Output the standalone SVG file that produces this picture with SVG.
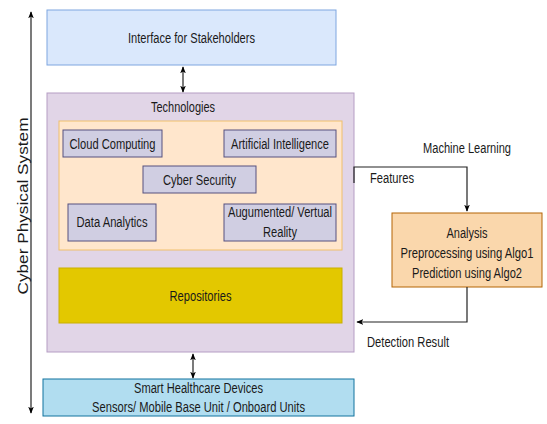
<svg xmlns="http://www.w3.org/2000/svg" width="547" height="424" viewBox="0 0 547 424">
<defs>
<marker id="ah" viewBox="0 0 10 10" refX="9" refY="5" markerWidth="7" markerHeight="7" orient="auto-start-reverse" markerUnits="userSpaceOnUse">
<path d="M0,1 L10,5 L0,9 L2.5,5 Z" fill="#000"/>
</marker>
</defs>
<style>
text{font-family:"Liberation Sans Narrow","Liberation Sans",Arial,sans-serif;font-size:15.5px;fill:#1a1a1a;text-anchor:middle}
.lbl{text-anchor:start}
.tech{fill:#d0cee2;stroke:#56517e;stroke-width:1}
.conn{fill:none;stroke:#222;stroke-width:1.2}
</style>
<rect width="547" height="424" fill="#fff"/>
<g id="axis">
<line x1="31" y1="12" x2="31" y2="413" class="conn" marker-start="url(#ah)" marker-end="url(#ah)"/>
<text transform="translate(28,206) rotate(-90)" style="font-family:'Liberation Sans',Arial,sans-serif;font-size:15.5px" textLength="177" lengthAdjust="spacingAndGlyphs">Cyber Physical System</text>
</g>
<g id="interface">
<rect x="47" y="10" width="289" height="55" fill="#dae8fc" stroke="#7ea6e0"/>
<text x="191.5" y="42.5" textLength="127" lengthAdjust="spacingAndGlyphs">Interface for Stakeholders</text>
</g>
<g id="technologies">
<rect x="47" y="93" width="307" height="259" fill="#e1d5e7" stroke="#b59dc4"/>
<text x="183" y="111.5" textLength="64" lengthAdjust="spacingAndGlyphs">Technologies</text>
</g>
<g id="tech-group">
<rect x="59" y="121" width="283" height="129" fill="#ffe6cc" stroke="#f0c06c"/>
</g>
<g id="cloud">
<rect class="tech" x="63" y="130" width="99" height="27"/>
<text x="112.5" y="149" textLength="86" lengthAdjust="spacingAndGlyphs">Cloud Computing</text>
</g>
<g id="ai">
<rect class="tech" x="224" y="130" width="112" height="27"/>
<text x="280" y="149" textLength="98" lengthAdjust="spacingAndGlyphs">Artificial Intelligence</text>
</g>
<g id="cyber">
<rect class="tech" x="143" y="166" width="113" height="27"/>
<text x="199.5" y="185" textLength="73" lengthAdjust="spacingAndGlyphs">Cyber Security</text>
</g>
<g id="data">
<rect class="tech" x="68" y="204" width="88" height="37"/>
<text x="112" y="227" textLength="71" lengthAdjust="spacingAndGlyphs">Data Analytics</text>
</g>
<g id="arvr">
<rect class="tech" x="224" y="204" width="112" height="37"/>
<text x="280" y="217" textLength="104" lengthAdjust="spacingAndGlyphs">Augumented/ Vertual</text>
<text x="280" y="237" textLength="34" lengthAdjust="spacingAndGlyphs">Reality</text>
</g>
<g id="repositories">
<rect x="59" y="268" width="283" height="55" fill="#e3c800" stroke="#c9b000"/>
<text x="200.5" y="300.5" textLength="62" lengthAdjust="spacingAndGlyphs">Repositories</text>
</g>
<g id="devices">
<rect x="43" y="379" width="311" height="37" fill="#b1ddf0" stroke="#10739e"/>
<text x="198.5" y="392.5" textLength="129" lengthAdjust="spacingAndGlyphs">Smart Healthcare Devices</text>
<text x="198.5" y="412" textLength="213" lengthAdjust="spacingAndGlyphs">Sensors/ Mobile Base Unit / Onboard Units</text>
</g>
<g id="analysis">
<rect x="392" y="213" width="150" height="74" fill="#fad7ac" stroke="#b46504"/>
<text x="467" y="238" textLength="41" lengthAdjust="spacingAndGlyphs">Analysis</text>
<text x="467" y="258" textLength="133" lengthAdjust="spacingAndGlyphs">Preprocessing using Algo1</text>
<text x="467" y="278" textLength="110" lengthAdjust="spacingAndGlyphs">Prediction using Algo2</text>
</g>
<g id="connectors">
<line x1="183" y1="67" x2="183" y2="92" class="conn" marker-start="url(#ah)" marker-end="url(#ah)"/>
<line x1="193" y1="354" x2="193" y2="378" class="conn" marker-start="url(#ah)" marker-end="url(#ah)"/>
<path d="M354,183 V167 H467 V211" class="conn" marker-end="url(#ah)"/>
<path d="M467,287 V322 H357" class="conn" marker-end="url(#ah)"/>
<text x="467" y="153" textLength="88" lengthAdjust="spacingAndGlyphs">Machine Learning</text>
<text class="lbl" x="370" y="183" textLength="44" lengthAdjust="spacingAndGlyphs">Features</text>
<text class="lbl" x="367" y="347" textLength="82" lengthAdjust="spacingAndGlyphs">Detection Result</text>
</g>
</svg>
